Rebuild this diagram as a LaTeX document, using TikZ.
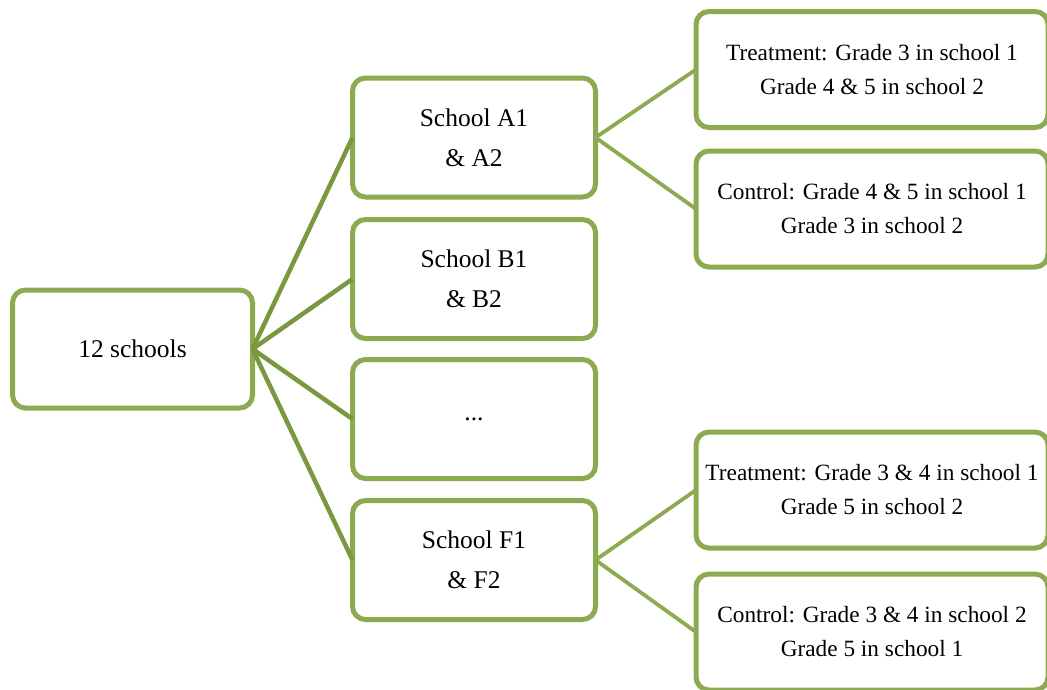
\documentclass[tikz,border=0pt]{standalone}
\usepackage{fontspec}
\setmainfont{Liberation Serif}
\definecolor{boxgreen}{HTML}{8CAA4F}
\definecolor{linkgreen}{HTML}{7A983F}
\tikzset{
  box/.style={draw=boxgreen, line width=5pt, rounded corners=13pt, fill=white,
    align=center, inner sep=0pt, outer sep=0pt},
  midbox/.style={box, minimum width=243pt, minimum height=119pt,
    font=\fontsize{25.5}{40}\selectfont},
  rootbox/.style={box, minimum width=240pt, minimum height=118pt,
    font=\fontsize{25.5}{40}\selectfont},
  rightbox/.style={box, minimum width=352pt, minimum height=116pt,
    font=\fontsize{23.3}{34}\selectfont},
  rootlink/.style={draw=linkgreen, line width=4.5pt},
  sublink/.style={draw=boxgreen, line width=3.8pt}
}
\begin{document}
\begin{tikzpicture}[x=1pt,y=1pt]
\useasboundingbox (0,0) rectangle (1047,-689);
\node[rootbox] (root) at (132.5,-349) {12 schools};
\node[midbox] (a) at (474,-137.5) {School A1\\\& A2};
\node[midbox] (b) at (474,-279) {School B1\\\& B2};
\node[midbox] (d) at (474,-419) {...};
\node[midbox] (f) at (474,-560) {School F1\\\& F2};
\node[rightbox] (t1) at (872,-69.5) {Treatment: Grade 3 in school 1\\Grade 4 \& 5 in school 2};
\node[rightbox] (c1) at (872,-209) {Control: Grade 4 \& 5 in school 1\\Grade 3 in school 2};
\node[rightbox] (t2) at (872,-490) {Treatment: Grade 3 \& 4 in school 1\\Grade 5 in school 2};
\node[rightbox] (c2) at (872,-632) {Control: Grade 3 \& 4 in school 2\\Grade 5 in school 1};
\draw[rootlink] (root.east) -- (a.west);
\draw[rootlink] (root.east) -- (b.west);
\draw[rootlink] (root.east) -- (d.west);
\draw[rootlink] (root.east) -- (f.west);
\draw[sublink] (a.east) -- (t1.west);
\draw[sublink] (a.east) -- (c1.west);
\draw[sublink] (f.east) -- (t2.west);
\draw[sublink] (f.east) -- (c2.west);
\end{tikzpicture}
\end{document}
